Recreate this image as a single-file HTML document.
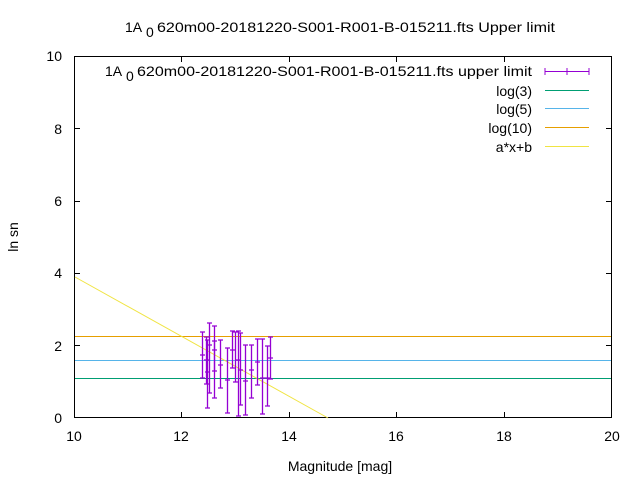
<!DOCTYPE html>
<html><head><meta charset="utf-8"><style>body{margin:0;background:#fff}svg{display:block}text{font-family:"Liberation Sans",sans-serif;font-size:14px;fill:#000}</style></head><body>
<svg width="640" height="480" xmlns="http://www.w3.org/2000/svg">
<rect width="640" height="480" fill="#fff"/>
<g stroke="#000" stroke-width="1" fill="none">
<rect x="74.5" y="56.5" width="537" height="361"/>
<path d="M74 128.5h6M74 201.5h6M74 273.5h6M74 345.5h6M612 128.5h-6M612 201.5h-6M612 273.5h-6M612 345.5h-6
M181.5 418v-6M289.5 418v-6M396.5 418v-6M504.5 418v-6M181.5 56v6M289.5 56v6M396.5 56v6M504.5 56v6"/>
</g>
<g text-anchor="end">
<text x="62" y="423">0</text><text x="62" y="351">2</text><text x="62" y="278">4</text><text x="62" y="206">6</text><text x="62" y="134">8</text><text x="62" y="61">10</text>
</g>
<g text-anchor="middle">
<text x="74" y="441">10</text><text x="181" y="441">12</text><text x="289" y="441">14</text><text x="396" y="441">16</text><text x="504" y="441">18</text><text x="612" y="441">20</text>
<text x="340" y="471">Magnitude [mag]</text>
<text transform="translate(18,237) rotate(-90)">ln sn</text>
</g>
<text x="125" y="32">1A</text><text x="146" y="37" font-size="10">0</text>
<text x="157" y="32" textLength="398" lengthAdjust="spacingAndGlyphs">620m00-20181220-S001-R001-B-015211.fts Upper limit</text>
<text x="105" y="76">1A</text><text x="126" y="81" font-size="10">0</text>
<text x="137" y="76" textLength="395" lengthAdjust="spacingAndGlyphs">620m00-20181220-S001-R001-B-015211.fts upper limit</text>
<g text-anchor="end">
<text x="532" y="96">log(3)</text><text x="532" y="114">log(5)</text><text x="532" y="133">log(10)</text><text x="532" y="152">a*x+b</text>
</g>
<g stroke-width="1">
<path d="M545 71.5h44M545 68v7M589 68v7M567 68v7" stroke="#9400d3"/>
<path d="M545 90.5h44" stroke="#009e73"/>
<path d="M545 108.5h44" stroke="#56b4e9"/>
<path d="M545 127.5h44" stroke="#e69f00"/>
<path d="M545 146.5h44" stroke="#f0e442"/>
<path d="M75 378.5h536" stroke="#009e73"/>
<path d="M75 360.5h536" stroke="#56b4e9"/>
<path d="M75 336.5h536" stroke="#e69f00"/>
<path d="M75 277L328 418" stroke="#f0e442"/>
</g>
<g stroke="#9400d3" stroke-width="1.3" fill="none">
<path d="M202.5 332v46M200 332h5M200 378h5M200 355h5"/>
<path d="M206.5 337v47M204 337h5M204 384h5M204 360h5"/>
<path d="M207.5 340v68M205 340h5M205 408h5M205 372h5"/>
<path d="M209.5 323v70M207 323h5M207 393h5M207 345h5"/>
<path d="M214.5 326v72M212 326h5M212 398h5M212 350h5"/>
<path d="M214.5 341v30M212 341h5M212 371h5"/>
<path d="M220.5 340v48M218 340h5M218 388h5M218 365h5"/>
<path d="M227.5 348v65M225 348h5M225 413h5M225 380h5"/>
<path d="M232.5 331v37M230 331h5M230 368h5M230 350h5"/>
<path d="M235.5 332v50M233 332h5M233 382h5"/>
<path d="M238.5 331v85M236 331h5M236 416h5M236 360h5"/>
<path d="M240.5 333v72M238 333h5M238 405h5M238 370h5"/>
<path d="M245.5 345v70M243 345h5M243 415h5M243 381h5"/>
<path d="M251.5 345v53M249 345h5M249 398h5M249 370h5"/>
<path d="M257.5 339v46M255 339h5M255 385h5M255 362h5"/>
<path d="M262.5 339v75M260 339h5M260 414h5M260 378h5"/>
<path d="M267.5 346v60M265 346h5M265 406h5M265 378h5"/>
<path d="M270.5 337v42M268 337h5M268 379h5M268 358h5"/>
</g>
</svg>
</body></html>
